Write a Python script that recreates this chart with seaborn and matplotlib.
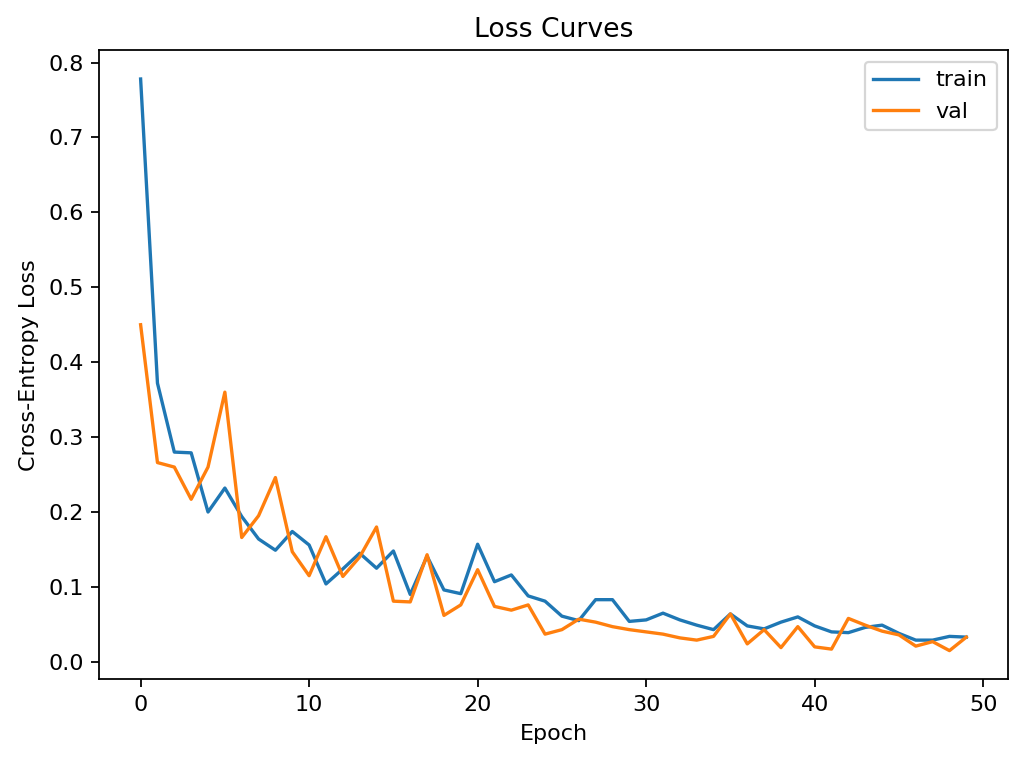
import seaborn as sns
import matplotlib.pyplot as plt
import pandas as pd
import numpy as np

# per-epoch loss values
epochs = list(range(50))
train_loss = [0.778, 0.372, 0.280, 0.279, 0.200, 0.232, 0.194, 0.164, 0.149, 0.174,
              0.156, 0.104, 0.124, 0.145, 0.125, 0.148, 0.090, 0.141, 0.096, 0.091,
              0.157, 0.107, 0.116, 0.088, 0.081, 0.061, 0.055, 0.083, 0.083, 0.054,
              0.056, 0.065, 0.056, 0.049, 0.043, 0.064, 0.048, 0.044, 0.053, 0.060,
              0.048, 0.040, 0.039, 0.046, 0.049, 0.038, 0.029, 0.029, 0.034, 0.033]
val_loss = [0.450, 0.266, 0.260, 0.217, 0.260, 0.360, 0.166, 0.195, 0.246, 0.147,
            0.115, 0.167, 0.114, 0.140, 0.180, 0.081, 0.080, 0.143, 0.062, 0.076,
            0.123, 0.074, 0.069, 0.076, 0.037, 0.043, 0.057, 0.053, 0.047, 0.043,
            0.040, 0.037, 0.032, 0.029, 0.034, 0.064, 0.024, 0.043, 0.019, 0.047,
            0.020, 0.017, 0.058, 0.049, 0.041, 0.036, 0.021, 0.027, 0.015, 0.033]

df = pd.DataFrame({
    "Epoch": epochs * 2,
    "Loss": train_loss + val_loss,
    "split": ["train"] * 50 + ["val"] * 50,
})

fig, ax = plt.subplots(figsize=(6.4, 4.775), dpi=160)
sns.lineplot(data=df, x="Epoch", y="Loss", hue="split",
             palette=["#1f77b4", "#ff7f0e"], linewidth=1.5, ax=ax)

ax.set_title("Loss Curves")
ax.set_xlabel("Epoch")
ax.set_ylabel("Cross-Entropy Loss")
sns.move_legend(ax, "upper right", title=None)

# axes box placed to match the reference margins
fig.subplots_adjust(left=0.097, right=0.984, top=0.934, bottom=0.111)
plt.savefig("out.png", dpi=160)
